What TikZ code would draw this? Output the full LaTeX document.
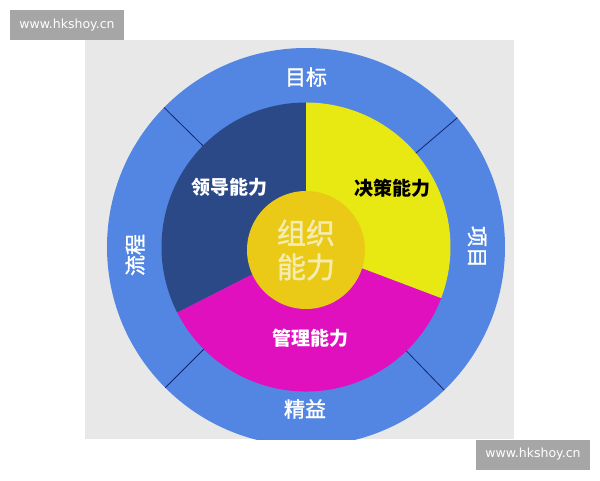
\documentclass[tikz,border=0pt]{standalone}
\usepackage{fontspec}
\setsansfont{DejaVu Sans}
\newfontfamily\cjk{Noto Sans CJK SC}
\newfontfamily\cjkmedio{Noto Sans CJK SC}[FakeBold=1.4]
\usetikzlibrary{positioning}

\definecolor{anelazul}{RGB}{82,134,226}
\definecolor{marinho}{RGB}{43,73,135}
\definecolor{amarelo}{RGB}{232,232,18}
\definecolor{magenta}{RGB}{224,16,190}
\definecolor{dourado}{RGB}{234,202,22}
\definecolor{creme}{RGB}{244,236,176}
\definecolor{fundo}{RGB}{232,232,232}
\definecolor{marca}{RGB}{166,166,166}
\definecolor{linha}{RGB}{20,36,110}

\begin{document}
\begin{tikzpicture}[x=1pt, y=1pt,
  rotulo/.style={font=\cjkmedio\fontsize{21}{24}\selectfont, text=white},
  setor/.style={font=\cjk\bfseries\fontsize{19}{22}\selectfont},
  divisoria/.style={draw=linha, line width=0.8pt},
  carimbo/.style={fill=marca, minimum width=114pt, minimum height=30pt,
    inner sep=0pt, text=white, font=\sffamily\fontsize{12.5}{14}\selectfont}]

\useasboundingbox (0,0) rectangle (600,480);

% Fundo cinzento
\fill[fundo] (85,41) rectangle (514,440);

% Anel exterior (cortado pelo fundo)
\begin{scope}
  \clip (85,41) rectangle (514,440);
  \fill[anelazul] (306,233) circle (199);
\end{scope}

% Setores
\fill[marinho] (306,233) -- ++(90:144.5) arc (90:207:144.5) -- cycle;
\fill[magenta] (306,233) -- ++(207:144.5) arc (207:339.3:144.5) -- cycle;
\fill[amarelo] (306,233) -- ++(-20.7:144.5) arc (-20.7:90:144.5) -- cycle;

% Divisorias do anel
\foreach \a in {135.5, 40.5, -46, 225}
  \draw[divisoria] (306,233) ++(\a:144.5) -- ++(\a:54.5);

% Circulo central
\fill[dourado] (306,230) circle (59);
\node[font=\cjkmedio\fontsize{29}{34}\selectfont, text=creme, align=center]
  (centro) at (306,230) {组织\\能力};

% Textos do anel
\node[rotulo] (objetivo) at (306,403) {目标};
\node[rotulo, rotate=-90] (projeto) at (477,233) {项目};
\node[rotulo] (enxuto) at (305,71) {精益};
\node[rotulo, rotate=90] (fluxo) at (135,225) {流程};

% Textos dos setores
\node[setor, text=white] (lideranca) at (229,293) {领导能力};
\node[setor, text=black] (decisao) at (392,292) {决策能力};
\node[setor, text=white] (gestao) at (310,142) {管理能力};

% Marcas de agua
\node[carimbo] (marcaA) at (67,455) {www.hkshoy.cn};
\node[carimbo] (marcaB) at (533,25.5) {www.hkshoy.cn};

\end{tikzpicture}
\end{document}
